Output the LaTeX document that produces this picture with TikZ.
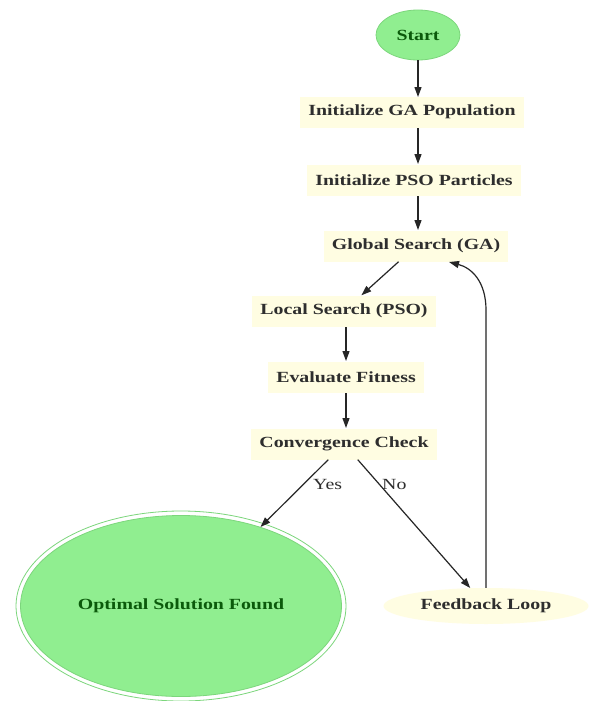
\documentclass[tikz,border=0pt]{standalone}
\usepackage{fontspec}
\setmainfont{Liberation Serif}
\usetikzlibrary{arrows.meta,shapes.geometric}
\definecolor{boxfill}{HTML}{FFFDE2}
\definecolor{grn}{HTML}{90EE90}
\definecolor{grnline}{HTML}{7CD67C}
\definecolor{dgrn}{HTML}{0B5A0B}
\definecolor{txt}{HTML}{2E2E2E}
\newcommand{\sx}[1]{\scalebox{1.28}[1]{#1}}
\tikzset{
  stepbox/.style={rectangle, fill=boxfill, draw=none, inner xsep=8pt, minimum height=31pt,
    font=\fontsize{15.5}{18}\selectfont\bfseries, text=txt},
  greenell/.style={ellipse, fill=grn, draw=grnline, line width=0.8pt,
    font=\fontsize{15.5}{18}\selectfont\bfseries, text=dgrn},
  fbell/.style={ellipse, fill=boxfill, draw=none, minimum width=205pt, minimum height=36pt,
    font=\fontsize{15.5}{18}\selectfont\bfseries, text=txt},
  conn/.style={draw=black!85, line width=1.2pt, -{Triangle[length=10pt,width=7pt]}},
  elabel/.style={font=\fontsize{15.5}{18}\selectfont, text=txt, inner sep=0pt}
}
\begin{document}
\begin{tikzpicture}[x=1pt,y=-1pt]
\useasboundingbox (0,0) rectangle (599,701);
\fill[white] (0,0) rectangle (599,701);
\node[greenell, minimum width=84pt, minimum height=50pt] (start) at (418,35) {\sx{Start}};
\node[stepbox] (gapop) at (412,112) {\sx{Initialize GA Population}};
\node[stepbox] (psop) at (414,180) {\sx{Initialize PSO Particles}};
\node[stepbox] (gs) at (416,246) {\sx{Global Search (GA)}};
\node[stepbox] (ls) at (344,311) {\sx{Local Search (PSO)}};
\node[stepbox] (ev) at (346,377) {\sx{Evaluate Fitness}};
\node[stepbox] (cc) at (344,444) {\sx{Convergence Check}};
\draw[grnline, line width=0.8pt] (181,606) ellipse [x radius=165pt, y radius=95pt];
\node[greenell, minimum width=321pt, minimum height=181pt] (opt) at (181,606) {\sx{Optimal Solution Found}};
\node[fbell] (fb) at (486,606) {\sx{Feedback Loop}};
\draw[conn] (start.south) -- (418,97);
\draw[conn] (418,128) -- (418,164);
\draw[conn] (418,196) -- (418,230);
\draw[conn] (gs) -- (ls);
\draw[conn] (346,327) -- (346,361);
\draw[conn] (346,393) -- (346,428);
\draw[conn] (cc) -- (opt);
\draw[conn] (cc) -- (fb);
\draw[conn] (fb.north) -- (486,310) .. controls (486,282) and (472,268) .. (449,262);
\node[elabel, anchor=west] (yes) at (313,484) {\sx{Yes}};
\node[elabel, anchor=west] (no) at (382,484) {\sx{No}};
\end{tikzpicture}
\end{document}
